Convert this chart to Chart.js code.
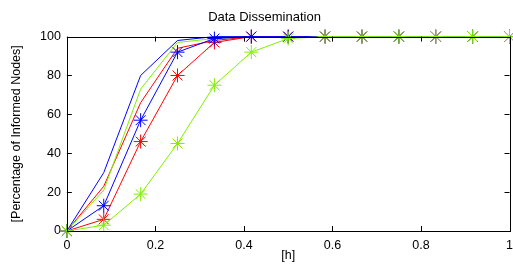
<!DOCTYPE html>
<html>
<head>
<meta charset="utf-8">
<script src="https://cdn.jsdelivr.net/npm/chart.js@4/dist/chart.umd.min.js"></script>
<style>
  html, body { margin: 0; padding: 0; background: #fff; overflow: hidden; }
  #wrap { width: 520px; height: 266px; }
</style>
</head>
<body>
<div id="wrap"><canvas id="c"></canvas></div>
<script>
// hours, sampled every 5 minutes
const hours = [0, 1/12, 2/12, 3/12, 4/12, 5/12, 6/12, 7/12, 8/12, 9/12, 10/12, 11/12, 1];

// plain lines
const blueLine  = [0, 30, 80, 98, 100, 100, 100, 100, 100, 100, 100, 100, 100];
const redLine   = [0, 23, 66, 94, 98, 100, 100, 100, 100, 100, 100, 100, 100];
const greenLine = [0, 21, 73, 97, 99, 100, 100, 100, 100, 100, 100, 100, 100];

// lines with star markers
const redStar   = [0, 6, 46, 80, 97, 100, 100, 100, 100, 100, 100, 100, 100];
const blueStar  = [0, 13, 57, 92, 99, 100, 100, 100, 100, 100, 100, 100, 100];
const greenStar = [0, 3, 19, 45, 75, 92, 99, 100, 100, 100, 100, 100, 100];

const xTicks = [0, 0.2, 0.4, 0.6, 0.8, 1];
const yTicks = [0, 20, 40, 60, 80, 100];

const RED = "#ff0000", BLUE = "#0000ff", GREEN = "#80f000";

function pts(arr) { return arr.map((v, i) => ({ x: hours[i], y: v })); }

function plain(data, color) {
  return { data: pts(data), borderColor: color, borderWidth: 1, pointRadius: 0, tension: 0 };
}
function starred(data, color) {
  return {
    data: pts(data), borderColor: color, backgroundColor: color, borderWidth: 1,
    pointStyle: "star", pointRadius: 7, pointBorderWidth: 1, pointBorderColor: color, tension: 0
  };
}

// gnuplot style frame with inward ticks on all four sides
const frame = {
  id: "frame",
  afterDatasetsDraw(chart) {
    const { ctx, chartArea: a, scales } = chart;
    ctx.save();
    ctx.strokeStyle = "#000";
    ctx.lineWidth = 1;
    ctx.strokeRect(Math.round(a.left) + 0.5, Math.round(a.top) + 0.5,
      Math.round(a.right - a.left), Math.round(a.bottom - a.top));
    ctx.beginPath();
    xTicks.forEach(t => {
      const x = Math.round(scales.x.getPixelForValue(t)) + 0.5;
      ctx.moveTo(x, a.bottom); ctx.lineTo(x, a.bottom - 5);
      ctx.moveTo(x, a.top); ctx.lineTo(x, a.top + 5);
    });
    yTicks.forEach(t => {
      const y = Math.round(scales.y.getPixelForValue(t)) + 0.5;
      ctx.moveTo(a.left, y); ctx.lineTo(a.left + 5, y);
      ctx.moveTo(a.right, y); ctx.lineTo(a.right - 5, y);
    });
    ctx.stroke();
    ctx.restore();
  }
};

const font = { family: "'Liberation Sans', Arial, sans-serif", size: 12.5 };

new Chart(document.getElementById("c"), {
  type: "line",
  data: {
    // first dataset is drawn on top
    datasets: [
      starred(greenStar, GREEN),
      starred(blueStar, BLUE),
      starred(redStar, RED),
      plain(blueLine, BLUE),
      plain(greenLine, GREEN),
      plain(redLine, RED)
    ]
  },
  options: {
    responsive: true,
    maintainAspectRatio: false,
    animation: false,
    clip: false,
    layout: { padding: { left: 9, top: 0, right: 0, bottom: 3 } },
    plugins: {
      legend: { display: false },
      tooltip: { enabled: false },
      title: {
        display: true, text: "Data Dissemination", color: "#000",
        font: { ...font, size: 13, weight: "normal" }, padding: { top: 10, bottom: 11 }
      }
    },
    scales: {
      x: {
        type: "linear", min: 0, max: 1,
        afterBuildTicks: s => { s.ticks = xTicks.map(v => ({ value: v })); },
        grid: { display: false, drawTicks: false },
        border: { display: false },
        ticks: { color: "#000", font, padding: 7, maxRotation: 0,
          callback: v => v === 0 ? "0" : v === 1 ? "1" : v.toFixed(1) },
        title: { display: true, text: "[h]", color: "#000", font, padding: { top: -12, bottom: 0 } }
      },
      y: {
        min: 0, max: 100,
        afterBuildTicks: s => { s.ticks = yTicks.map(v => ({ value: v })); },
        grid: { display: false, drawTicks: false },
        border: { display: false },
        ticks: { color: "#000", font, padding: 6 },
        title: { display: true, text: "[Percentage of Informed Nodes]", color: "#000", font, padding: { top: 0, bottom: 10 } }
      }
    }
  },
  plugins: [frame]
});
</script>
</body>
</html>
